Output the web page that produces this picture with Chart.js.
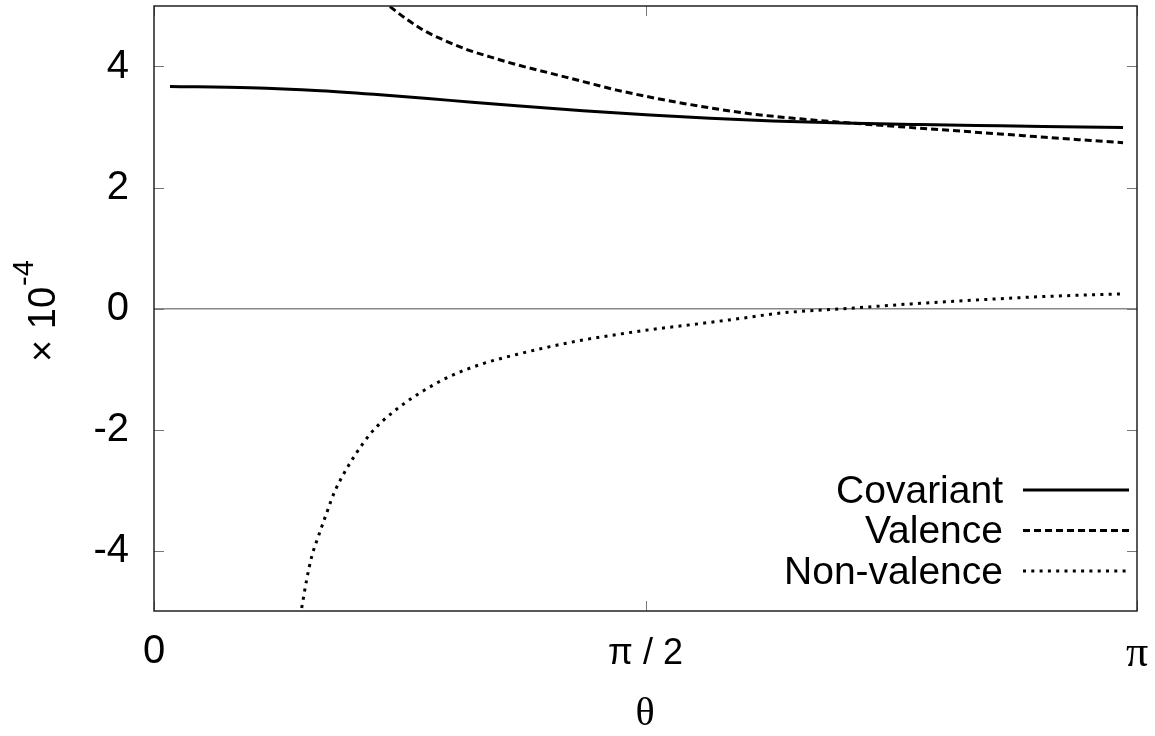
<!DOCTYPE html>
<html>
<head>
<meta charset="utf-8">
<script src="https://cdn.jsdelivr.net/npm/chart.js@4"></script>
<style>
  body { margin: 0; background: #fff; }
  canvas { display: block; }
</style>
</head>
<body>
<canvas id="chart" width="1155" height="736"></canvas>
<script>
// values in units of 1e-4, theta in radians
const covTheta  = [0.051, 0.307, 0.531, 0.733, 0.946, 1.159, 1.371, 1.585, 1.777, 1.977, 2.202, 2.448, 2.704, 2.902, 3.097];
const covValues = [3.67, 3.65, 3.60, 3.53, 3.44, 3.35, 3.27, 3.20, 3.145, 3.10, 3.065, 3.04, 3.02, 3.005, 2.99];

const valTheta  = [0.754, 0.808, 0.861, 0.925, 1.000, 1.074, 1.159, 1.266, 1.372, 1.479, 1.692, 1.905, 2.065, 2.202, 2.384, 2.704, 2.902, 3.097];
const valValues = [4.99, 4.78, 4.60, 4.44, 4.28, 4.16, 4.03, 3.89, 3.75, 3.61, 3.39, 3.22, 3.135, 3.075, 3.005, 2.885, 2.81, 2.74];

const nonTheta  = [0.472, 0.488, 0.504, 0.525, 0.549, 0.578, 0.610, 0.648, 0.690, 0.733, 0.797, 0.861, 0.946, 1.052, 1.159, 1.266, 1.372, 1.479, 1.585, 1.745, 1.873, 2.001, 2.214, 2.426, 2.640, 2.854, 3.087];
const nonValues = [-4.95, -4.48, -4.10, -3.77, -3.42, -3.02, -2.70, -2.38, -2.08, -1.85, -1.58, -1.36, -1.12, -0.91, -0.76, -0.63, -0.52, -0.43, -0.35, -0.25, -0.165, -0.076, 0.00, 0.078, 0.144, 0.20, 0.24];

const seriesNames = ["Covariant", "Valence", "Non-valence"];

const yTickValues = [-4, -2, 0, 2, 4];
const xTickValues = [0, Math.PI / 2, Math.PI];
const xTickLabels = ["0", "\u03c0 / 2", "\u03c0"];

function toPoints(xs, ys) {
  return xs.map((x, i) => ({ x: x, y: ys[i] }));
}

const sans = "'Liberation Sans', Arial, Helvetica, sans-serif";
const serif = "'Liberation Serif', 'Times New Roman', serif";

function noPadding(scale) {
  scale.paddingTop = 0;
  scale.paddingBottom = 0;
  scale.paddingLeft = 0;
  scale.paddingRight = 0;
}

const frame = {
  id: "frame",
  afterDraw(chart) {
    const { ctx, chartArea: a, scales } = chart;
    ctx.save();
    // inward tick marks
    ctx.strokeStyle = "#777";
    ctx.lineWidth = 1;
    ctx.beginPath();
    yTickValues.forEach(v => {
      const y = Math.round(scales.y.getPixelForValue(v)) + 0.5;
      ctx.moveTo(a.left, y); ctx.lineTo(a.left + 10, y);
      ctx.moveTo(a.right, y); ctx.lineTo(a.right - 10, y);
    });
    xTickValues.forEach(v => {
      const x = Math.round(scales.x.getPixelForValue(v)) + 0.5;
      ctx.moveTo(x, a.bottom); ctx.lineTo(x, a.bottom - 10);
      ctx.moveTo(x, a.top); ctx.lineTo(x, a.top + 10);
    });
    ctx.stroke();
    // border
    ctx.strokeStyle = "#222";
    ctx.lineWidth = 1.5;
    ctx.strokeRect(a.left, a.top, a.right - a.left, a.bottom - a.top);

    // legend
    ctx.font = "39px " + sans;
    ctx.fillStyle = "#000";
    ctx.textAlign = "right";
    ctx.textBaseline = "middle";
    chart.data.datasets.forEach((ds, i) => {
      const y = 490 + i * 40.5;
      ctx.fillText(ds.label, 1003, y + 2);
      ctx.save();
      ctx.strokeStyle = ds.borderColor;
      ctx.lineWidth = ds.borderWidth;
      ctx.setLineDash(ds.borderDash || []);
      ctx.beginPath();
      ctx.moveTo(1023, y);
      ctx.lineTo(1129, y);
      ctx.stroke();
      ctx.restore();
    });

    // y title: x 10^-4, rotated
    ctx.save();
    ctx.translate(55, 362);
    ctx.rotate(-Math.PI / 2);
    ctx.textAlign = "left";
    ctx.textBaseline = "alphabetic";
    ctx.font = "38px " + sans;
    const base = "\u00d7 10";
    ctx.fillText(base, 0, 0);
    const w = ctx.measureText(base).width;
    ctx.font = "29px " + sans;
    ctx.fillText("-4", w + 1, -22);
    ctx.restore();

    // x title
    ctx.font = "40px " + serif;
    ctx.textAlign = "center";
    ctx.textBaseline = "alphabetic";
    ctx.fillText("\u03b8", 645, 725);
    ctx.restore();
  }
};

new Chart(document.getElementById("chart"), {
  type: "line",
  data: {
    datasets: [
      {
        label: seriesNames[0],
        data: toPoints(covTheta, covValues),
        borderColor: "#000",
        borderWidth: 3,
        pointRadius: 0,
        fill: false,
        cubicInterpolationMode: "monotone"
      },
      {
        label: seriesNames[1],
        data: toPoints(valTheta, valValues),
        borderColor: "#000",
        borderWidth: 3,
        borderDash: [7, 4],
        pointRadius: 0,
        fill: false,
        cubicInterpolationMode: "monotone"
      },
      {
        label: seriesNames[2],
        data: toPoints(nonTheta, nonValues),
        borderColor: "#000",
        borderWidth: 3,
        borderDash: [3, 5.3],
        pointRadius: 0,
        fill: false,
        cubicInterpolationMode: "monotone"
      }
    ]
  },
  options: {
    responsive: false,
    animation: false,
    layout: { padding: { top: 6, right: 18, left: 0, bottom: 0 } },
    plugins: {
      legend: { display: false },
      tooltip: { enabled: false }
    },
    scales: {
      x: {
        type: "linear",
        min: 0,
        max: Math.PI,
        afterBuildTicks: scale => {
          scale.ticks = xTickValues.map(v => ({ value: v }));
        },
        afterFit: scale => { scale.height = 125; noPadding(scale); },
        grid: { display: false, drawTicks: false },
        border: { display: false },
        ticks: {
          color: "#000",
          padding: 17,
          maxRotation: 0,
          autoSkip: false,
          font: ctx => {
            const i = ctx.index;
            if (i === 0) return { family: sans, size: 40, lineHeight: 1.2 };
            if (i === 1) return { family: sans, size: 36, lineHeight: "52px" };
            return { family: serif, size: 44, lineHeight: "52px" };
          },
          callback: (v, i) => xTickLabels[i]
        }
      },
      y: {
        min: -5,
        max: 5,
        afterBuildTicks: scale => {
          scale.ticks = yTickValues.map(v => ({ value: v }));
        },
        afterFit: scale => { scale.width = 154; noPadding(scale); },
        grid: {
          drawTicks: false,
          lineWidth: 1.5,
          color: ctx => (ctx.tick && ctx.tick.value === 0 ? "#888" : "rgba(0,0,0,0)")
        },
        border: { display: false },
        ticks: {
          color: "#000",
          padding: 25,
          font: { family: sans, size: 40 },
          callback: v => String(v)
        }
      }
    }
  },
  plugins: [frame]
});
</script>
</body>
</html>
